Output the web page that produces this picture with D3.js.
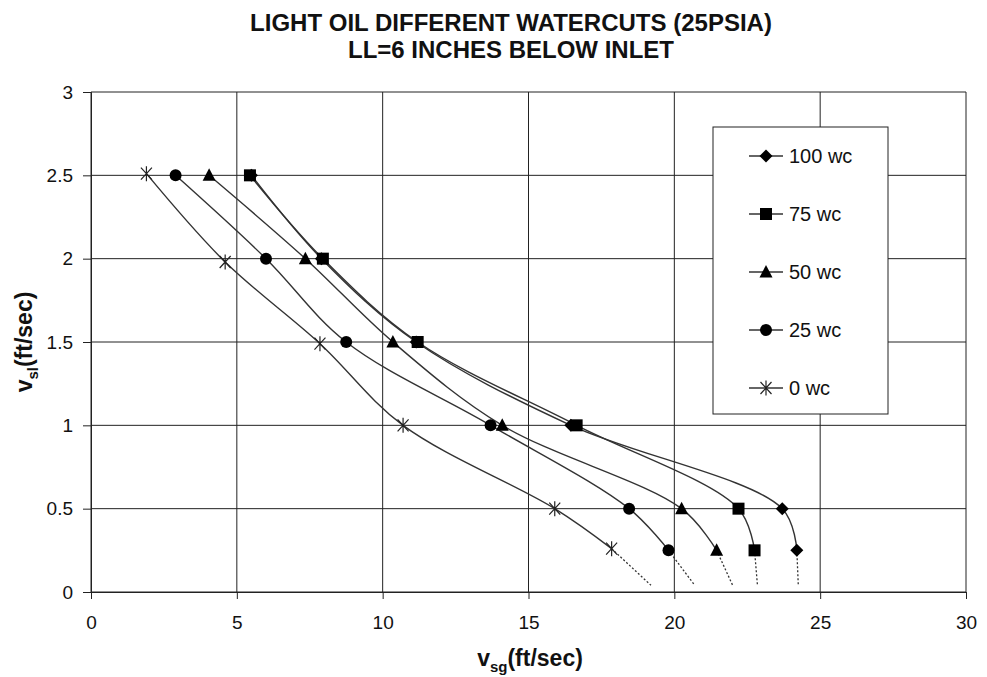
<!DOCTYPE html>
<html>
<head>
<meta charset="utf-8">
<script src="https://cdn.jsdelivr.net/npm/d3@7"></script>
<style>
  body { margin: 0; background: #fff; }
  text { font-family: "Liberation Sans", Arial, sans-serif; }
</style>
</head>
<body>
<script>
(function () {
	"use strict";

	// data
	const seriesNames = ['100 wc', '75 wc', '50 wc', '25 wc', '0 wc'];
	const vsl = [2.5, 2.0, 1.5, 1.0, 0.5, 0.25];
	const vsl0wc = [2.51, 1.98, 1.49, 1.0, 0.5, 0.26];
	const vsg100 = [5.5, 7.9, 11.15, 16.45, 23.7, 24.2];
	const vsg75 = [5.45, 7.95, 11.2, 16.65, 22.2, 22.75];
	const vsg50 = [4.05, 7.35, 10.35, 14.1, 20.25, 21.45];
	const vsg25 = [2.9, 6.0, 8.75, 13.7, 18.45, 19.8];
	const vsg0 = [1.9, 4.6, 7.85, 10.7, 15.9, 17.85];
	// dotted extrapolation down to the axis
	const extVsg = [24.25, 22.85, 22.0, 20.7, 19.2];
	const extVsl = 0.04;
	const xTicks = [0, 5, 10, 15, 20, 25, 30];
	const yTicks = [0, 0.5, 1, 1.5, 2, 2.5, 3];

	const w = 987, h = 677;
	const m = { left: 91, right: 21, top: 92, bottom: 85 };

	const svg = d3.select('body').append('svg').attr('width', w).attr('height', h);

	const x = d3.scaleLinear().domain([0, 30]).range([m.left, w - m.right]);
	const y = d3.scaleLinear().domain([0, 3]).range([h - m.bottom, m.top]);

	// grid
	svg.append('g').selectAll('line').data(xTicks).enter().append('line')
		.attr('x1', d => x(d)).attr('x2', d => x(d))
		.attr('y1', y(0)).attr('y2', y(3))
		.attr('stroke', '#222').attr('stroke-width', 1);
	svg.append('g').selectAll('line').data(yTicks).enter().append('line')
		.attr('x1', x(0)).attr('x2', x(30))
		.attr('y1', d => y(d)).attr('y2', d => y(d))
		.attr('stroke', '#222').attr('stroke-width', 1);

	// axes
	let xAxis = svg.append('g').attr('transform', 'translate(0,' + y(0) + ')')
		.call(d3.axisBottom(x).tickValues(xTicks).tickSize(7).tickPadding(17).tickFormat(d3.format('d')));
	let yAxis = svg.append('g').attr('transform', 'translate(' + x(0) + ',0)')
		.call(d3.axisLeft(y).tickValues(yTicks).tickSize(8).tickPadding(10).tickFormat(d => d));
	[xAxis, yAxis].forEach(function (a) {
		a.select('.domain').attr('stroke', '#222');
		a.selectAll('.tick line').attr('stroke', '#222');
		a.selectAll('text').attr('font-size', 19).attr('fill', '#111')
			.style('font-family', '"Liberation Sans", Arial, sans-serif');
	});

	const allVsg = [vsg100, vsg75, vsg50, vsg25, vsg0];
	const series = seriesNames.map(function (name, i) {
		let ys = (i === 4) ? vsl0wc : vsl;
		return {
			name: name,
			pts: allVsg[i].map((v, j) => [v, ys[j]]),
			ext: [extVsg[i], extVsl]
		};
	});

	const line = d3.line().x(d => x(d[0])).y(d => y(d[1])).curve(d3.curveCatmullRom.alpha(0.5));

	// dotted extensions
	svg.append('g').selectAll('line').data(series).enter().append('line')
		.attr('x1', d => x(d.pts[d.pts.length - 1][0]))
		.attr('y1', d => y(d.pts[d.pts.length - 1][1]))
		.attr('x2', d => x(d.ext[0])).attr('y2', d => y(d.ext[1]))
		.attr('stroke', '#333').attr('stroke-width', 1.3).attr('stroke-dasharray', '2,2');

	// curves (draw 0 wc first so 100 wc ends up on top)
	let order = series.slice().reverse();
	svg.append('g').selectAll('path').data(order).enter().append('path')
		.attr('d', d => line(d.pts))
		.attr('fill', 'none').attr('stroke', '#333').attr('stroke-width', 1.4);

	function marker(g, i) {
		if (i === 0) {
			g.append('path').attr('d', 'M0,-6.5L6.5,0L0,6.5L-6.5,0Z').attr('fill', '#000');
		} else if (i === 1) {
			g.append('rect').attr('x', -6).attr('y', -6).attr('width', 12).attr('height', 12).attr('fill', '#000');
		} else if (i === 2) {
			g.append('path').attr('d', 'M0,-7L6.5,5.5L-6.5,5.5Z').attr('fill', '#000');
		} else if (i === 3) {
			g.append('circle').attr('r', 6).attr('fill', '#000');
		} else {
			g.append('path').attr('d', 'M-5.5,-6L5.5,6M5.5,-6L-5.5,6M0,-7.5L0,7.5')
				.attr('stroke', '#222').attr('stroke-width', 1.2).attr('fill', 'none');
		}
	}

	order.forEach(function (s) {
		let i = seriesNames.indexOf(s.name);
		s.pts.forEach(function (p) {
			let g = svg.append('g').attr('transform', 'translate(' + x(p[0]) + ',' + y(p[1]) + ')');
			marker(g, i);
		});
	});

	// legend
	let lg = svg.append('g').attr('transform', 'translate(713,127)');
	lg.append('rect').attr('width', 175).attr('height', 287)
		.attr('fill', '#fff').attr('stroke', '#222').attr('stroke-width', 1);
	seriesNames.forEach(function (name, i) {
		let row = lg.append('g').attr('transform', 'translate(0,' + (29 + i * 58) + ')');
		row.append('line').attr('x1', 36).attr('x2', 70).attr('stroke', '#333').attr('stroke-width', 1.3);
		let mg = row.append('g').attr('transform', 'translate(53,0)');
		marker(mg, i);
		row.append('text').attr('x', 76).attr('y', 7).attr('font-size', 20).attr('fill', '#111').text(name);
	});

	// titles
	let cx = 511;
	svg.append('text').attr('x', cx).attr('y', 31).attr('text-anchor', 'middle')
		.attr('font-size', 24).attr('font-weight', 'bold').attr('fill', '#111')
		.text('LIGHT OIL DIFFERENT WATERCUTS (25PSIA)');
	svg.append('text').attr('x', cx).attr('y', 58).attr('text-anchor', 'middle')
		.attr('font-size', 24).attr('font-weight', 'bold').attr('fill', '#111')
		.text('LL=6 INCHES BELOW INLET');

	let xt = svg.append('text').attr('x', 530).attr('y', 666).attr('text-anchor', 'middle')
		.attr('font-size', 23).attr('font-weight', 'bold').attr('fill', '#111');
	xt.append('tspan').text('v');
	xt.append('tspan').attr('font-size', 15).attr('dy', 6).text('sg');
	xt.append('tspan').attr('dy', -6).text('(ft/sec)');

	let yt = svg.append('text').attr('transform', 'translate(32,342) rotate(-90)').attr('text-anchor', 'middle')
		.attr('font-size', 23).attr('font-weight', 'bold').attr('fill', '#111');
	yt.append('tspan').text('v');
	yt.append('tspan').attr('font-size', 15).attr('dy', 6).text('sl');
	yt.append('tspan').attr('dy', -6).text('(ft/sec)');
})();
</script>
</body>
</html>
